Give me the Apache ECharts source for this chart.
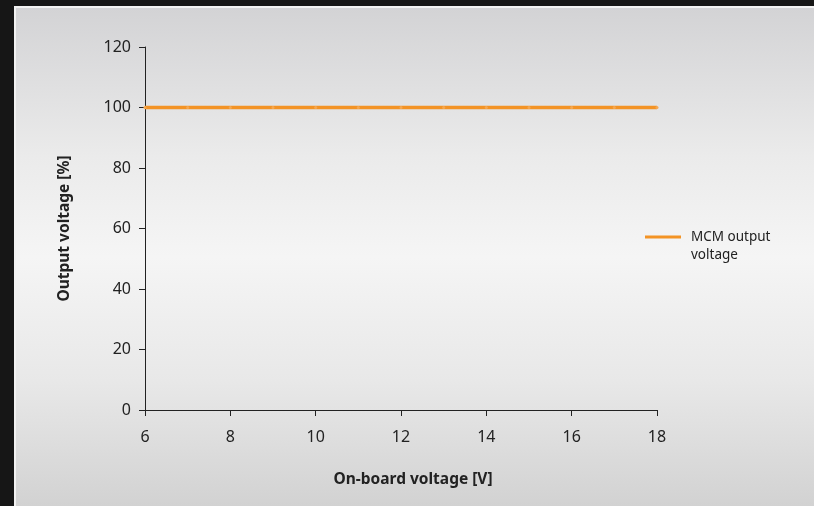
<!DOCTYPE html>
<html>
<head>
<meta charset="utf-8">
<script src="https://cdn.jsdelivr.net/npm/echarts@6/dist/echarts.min.js"></script>
<style>
html,body{margin:0;padding:0;background:#161616;width:814px;height:506px;overflow:hidden;}
#panel{position:absolute;left:14px;top:6px;width:798px;height:498px;border-left:2px solid #f2f2f2;border-top:2px solid #f2f2f2;
background:linear-gradient(to bottom,#d3d3d5 0%,#ebebeb 30%,#f5f5f5 50%,#e8e8e8 75%,#d2d2d2 100%);}
#chart{position:absolute;left:0;top:0;width:814px;height:506px;}
</style>
</head>
<body>
<div id="panel"></div>
<div id="chart"></div>
<script>
var onboardVoltage = [6,7,8,9,10,11,12,13,14,15,16,17,18];
var outputVoltage = [100,100,100,100,100,100,100,100,100,100,100,100,100];
var seriesName = 'MCM output voltage';
var xAxisTitle = 'On-board voltage [V]';
var yAxisTitle = 'Output voltage [%]';

var chart = echarts.init(document.getElementById('chart'), null, {renderer:'canvas'});
var font = '"Noto Sans", "Open Sans", sans-serif';
chart.setOption({
  backgroundColor: 'transparent',
  animation: false,
  textStyle: {fontFamily: font},
  grid: {left:145, right:157, top:47, bottom:96, containLabel:false},
  legend: {
    orient:'vertical', left:645, top:228, padding:0,
    itemWidth:41, itemHeight:36,
    symbolKeepAspect:false,
    icon:'path://M0,0L41,0M0,7.5L36,7.5L36,10.5L0,10.5Z M0,36L41,36',
    itemGap:0,
    itemStyle:{borderWidth:0},
    textStyle:{fontFamily:font, fontSize:13.5, color:'#222', width:95, overflow:'break', lineHeight:18},
    data:[{name:seriesName, itemStyle:{color:'#f39325', borderWidth:0}}]
  },
  xAxis: {
    type:'value', min:6, max:18, interval:2,
    name:xAxisTitle, nameLocation:'middle', nameGap:62,
    nameTextStyle:{fontFamily:font, fontSize:15.5, fontWeight:'bold', color:'#222', padding:[0,0,0,24]},
    axisLine:{show:true, lineStyle:{color:'#222', width:1}},
    axisTick:{show:true, length:6, lineStyle:{color:'#222'}},
    axisLabel:{fontFamily:font, fontSize:16, color:'#222', margin:19},
    splitLine:{show:false}
  },
  yAxis: {
    type:'value', min:0, max:120, interval:20,
    name:yAxisTitle, nameLocation:'middle', nameGap:72, nameRotate:90,
    nameTextStyle:{fontFamily:font, fontSize:15.5, fontWeight:'bold', color:'#222'},
    axisLine:{show:true, lineStyle:{color:'#222', width:1}},
    axisTick:{show:true, length:6, lineStyle:{color:'#222'}},
    axisLabel:{fontFamily:font, fontSize:16, color:'#222', margin:14},
    splitLine:{show:false}
  },
  series: [{
    name:seriesName, type:'line',
    data: onboardVoltage.map(function(v,i){return [v, outputVoltage[i]];}),
    showSymbol:true, symbol:'circle', symbolSize:3,
    itemStyle:{color:'#f6a850'},
    lineStyle:{color:'#f39325', width:3.5},
    z:3
  }]
});
</script>
</body>
</html>
